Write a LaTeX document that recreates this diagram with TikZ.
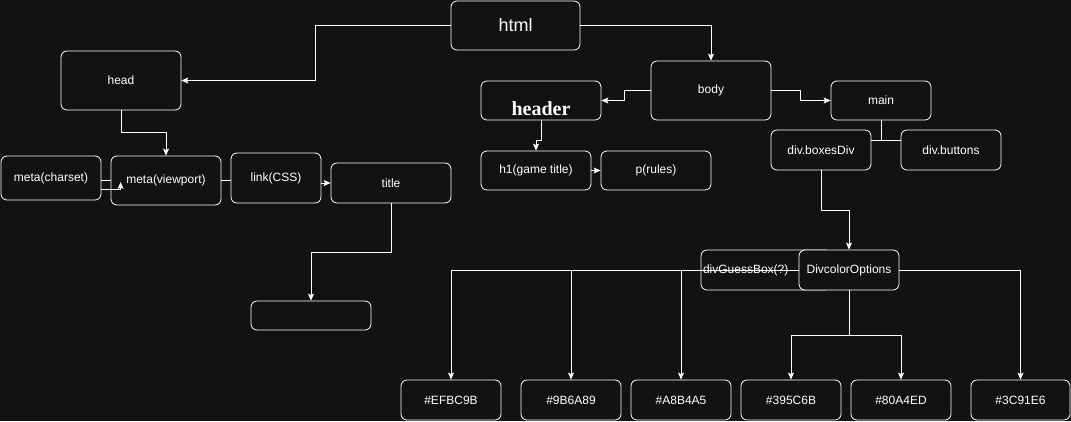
\documentclass[tikz,border=0pt]{standalone}
\usepackage{fontspec}
\setmainfont{Liberation Sans}
\newfontfamily\headerfont{Liberation Serif}
\usetikzlibrary{arrows.meta}
\definecolor{bgdark}{HTML}{121212}

\begin{document}
\begin{tikzpicture}[x=1pt, y=-1pt,
        box/.style={draw=white, fill=bgdark, rounded corners=6pt, line width=0.8pt,
            text=white, font=\fontsize{12}{14}\selectfont, inner sep=0pt},
        link/.style={draw=white, line width=0.8pt},
        arr/.style={link, -{Stealth[length=7pt, width=6pt, inset=1.5pt]}}]
        \useasboundingbox (0, 0) rectangle (1071, 421);
        \fill[bgdark] (0, 0) rectangle (1071, 421);

        % Root and head
        \node[box, minimum width=129pt, minimum height=49pt, font=\fontsize{18}{20}\selectfont] (html) at (515.5, 25.5) {html};
        \node[box, minimum width=120pt, minimum height=59pt] (head) at (121, 80.5) {head};
        \node[box, minimum width=100pt, minimum height=44pt] (charset) at (51, 178) {meta(charset)};
        \node[box, minimum width=110pt, minimum height=49pt] (viewport) at (166, 180.5) {meta(viewport)};
        \node[box, minimum width=90pt, minimum height=50pt] (css) at (276, 178) {link(CSS)};
        \node[box, minimum width=120pt, minimum height=40pt] (title) at (391, 183) {title};
        \node[box, minimum width=120pt, minimum height=29pt] (blank) at (311, 315.5) {};

        % Body
        \node[box, minimum width=120pt, minimum height=59pt] (body) at (711, 90.5) {body};
        \node[box, minimum width=120pt, minimum height=39pt, text height=30pt, text depth=0pt,
            font=\headerfont\bfseries\fontsize{20}{22}\selectfont] (header) at (541, 100.5) {header};
        \node[box, minimum width=100pt, minimum height=39pt] (main) at (881, 100.5) {main};
        \node[box, minimum width=110pt, minimum height=39pt] (h1) at (536, 170.5) {h1(game title)};
        \node[box, minimum width=110pt, minimum height=39pt] (rules) at (656, 170.5) {p(rules)};
        \node[box, minimum width=100pt, minimum height=40pt] (boxes) at (821, 150) {div.boxesDiv};
        \node[box, minimum width=100pt, minimum height=40pt] (buttons) at (951, 150) {div.buttons};

        % Guess box and colour options
        \node[box, fill=none, minimum width=130pt, minimum height=40pt, text width=126pt, inner xsep=2pt, align=left] (guess) at (766, 270) {divGuessBox(?)};
        \node[box, minimum width=100pt, minimum height=40pt] (options) at (849, 270) {DivcolorOptions};
        \node[box, minimum width=100pt, minimum height=40pt] (c1) at (451, 400) {\#EFBC9B};
        \node[box, minimum width=100pt, minimum height=40pt] (c2) at (571, 400) {\#9B6A89};
        \node[box, minimum width=100pt, minimum height=40pt] (c3) at (681, 400) {\#A8B4A5};
        \node[box, minimum width=100pt, minimum height=40pt] (c4) at (791, 400) {\#395C6B};
        \node[box, minimum width=100pt, minimum height=40pt] (c5) at (901, 400) {\#80A4ED};
        \node[box, minimum width=99pt, minimum height=40pt] (c6) at (1020.5, 400) {\#3C91E6};

        % Connectors
        \draw[arr] (html.west) -- ++(-135, 0) |- (head.east);
        \draw[arr] (html.east) -| (body.north);
        \draw[arr] (head.south) -- ++(0, 22) -| (viewport.north);
        \draw[link] ([yshift=-2pt]charset.east) -- ([yshift=-2pt]charset.east -| viewport.west);
        \draw[arr] ([yshift=-11pt]charset.east) -| ([xshift=10pt, yshift=-1.5pt]viewport.west);
        \draw[link] (viewport.east) -- (viewport.east -| css.west);
        \draw[arr] (css.east |- title.west) -- (title.west);
        \draw[arr] (title.south) -- ++(0, 49) -| (blank.north);

        \draw[arr] (body.west) -- ++(-26, 0) |- (header.east);
        \draw[arr] (body.east) -- ++(29, 0) |- (main.west);
        \draw[arr] (header.south) -- ++(0, 19.5) -| (h1.north);
        \draw[arr] (h1.east) -- (rules.west);
        \draw[link] (main.south) -- ++(0, 19.5) coordinate (mainfork);
        \draw[link] (boxes.east |- mainfork) -- (buttons.west |- mainfork);
        \draw[arr] (boxes.south) -- ++(0, 40) -| (options.north);

        \draw[arr] (options.west) -| (c1.north);
        \draw[arr] (c2.north |- options.west) -- (c2.north);
        \draw[arr] (c3.north |- options.west) -- (c3.north);
        \draw[arr] (options.east) -| (c6.north);
        \draw[link] (options.south) -- ++(0, 45) coordinate (optfork);
        \draw[arr] (optfork) -| (c4.north);
        \draw[arr] (optfork) -| (c5.north);
\end{tikzpicture}
\end{document}
